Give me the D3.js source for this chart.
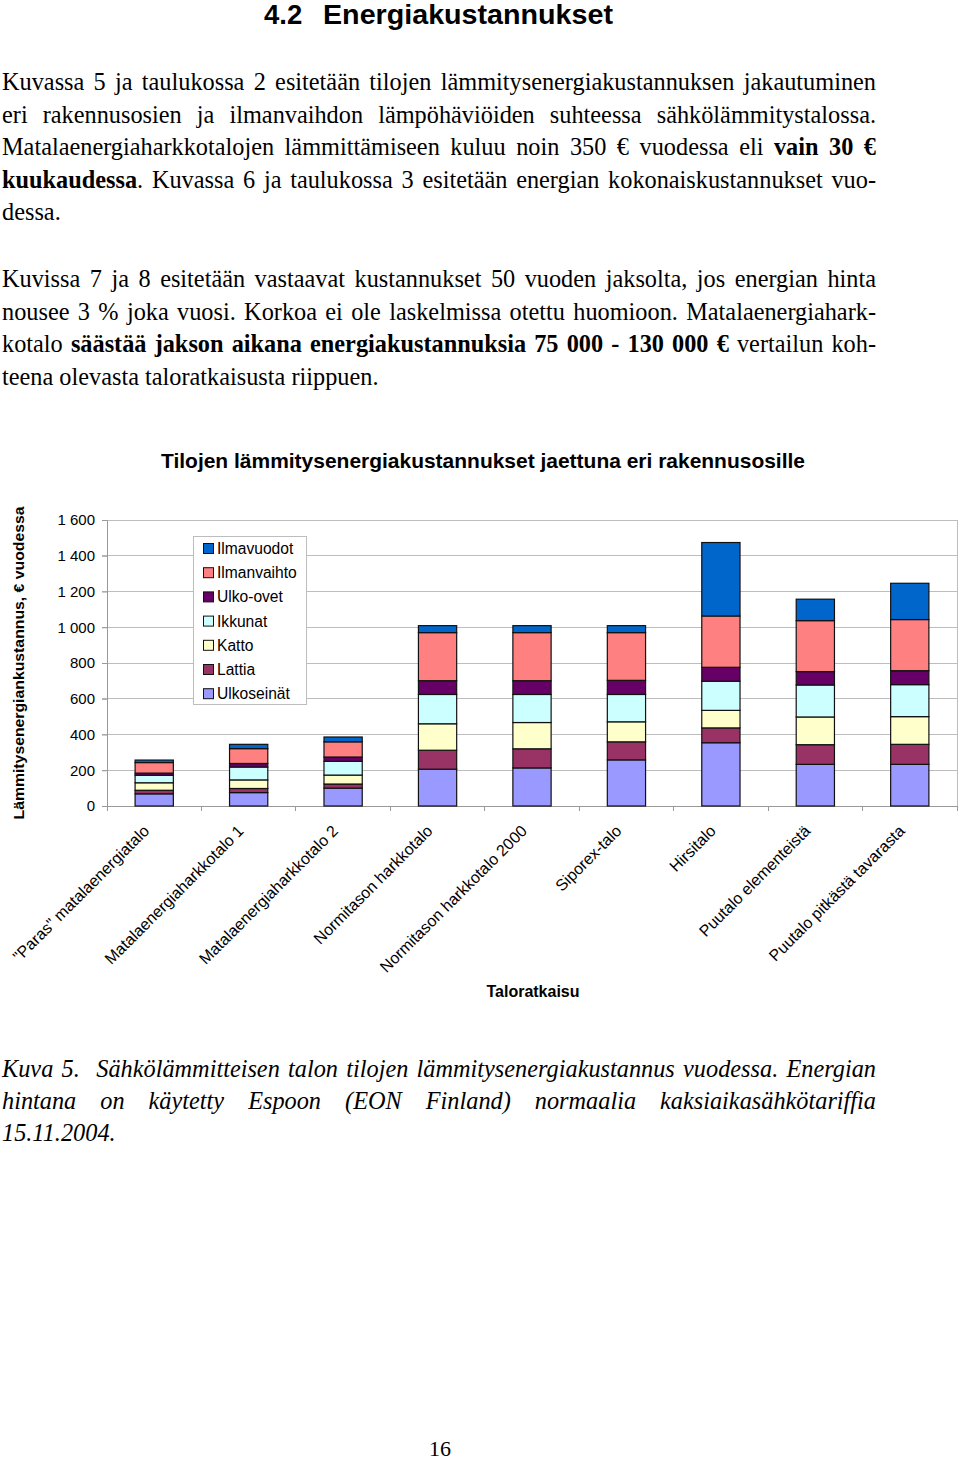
<!DOCTYPE html>
<html><head><meta charset="utf-8">
<script src="https://cdn.jsdelivr.net/npm/d3@7/dist/d3.min.js"></script>
<style>
html,body{margin:0;padding:0;background:#fff;}
svg{display:block;}
</style></head>
<body>
<script>
// ---- data ----
const categories = ['"Paras" matalaenergiatalo','Matalaenergiaharkkotalo 1','Matalaenergiaharkkotalo 2','Normitason harkkotalo','Normitason harkkotalo 2000','Siporex-talo','Hirsitalo','Puutalo elementeistä','Puutalo pitkästä tavarasta'];
const seriesNames = ['Ulkoseinät','Lattia','Katto','Ikkunat','Ulko-ovet','Ilmanvaihto','Ilmavuodot'];
const seriesColors = ['#9999FF','#993366','#FFFFCC','#CCFFFF','#660066','#FF8080','#0066CC'];
const ulkoseinat  = [68, 75, 100, 206, 213, 258, 354, 233, 233];
const lattia      = [20, 23, 23, 106, 107, 101, 83, 110, 112];
const katto       = [42, 48, 50, 148, 147, 112, 98, 155, 155];
const ikkunat     = [42, 72, 77, 164, 157, 153, 163, 179, 179];
const ulkoovet    = [12, 20, 24, 77, 77, 79, 78, 75, 78];
const ilmanvaihto = [59, 83, 85, 269, 269, 267, 287, 285, 286];
const ilmavuodot  = [14, 24, 27, 39, 39, 39, 411, 120, 203];
const yTicks = [0,200,400,600,800,1000,1200,1400,1600];
const yTickLabels = ['0','200','400','600','800','1 000','1 200','1 400','1 600'];
const legendOrder = ['Ilmavuodot','Ilmanvaihto','Ulko-ovet','Ikkunat','Katto','Lattia','Ulkoseinät'];

const headingNum = '4.2';
const headingText = 'Energiakustannukset';
const chartTitle = 'Tilojen lämmitysenergiakustannukset jaettuna eri rakennusosille';
const yTitle = 'Lämmitysenergiankustannus, € vuodessa';
const xTitle = 'Taloratkaisu';
const para1 = [
  {j:true, parts:[['Kuvassa 5 ja taulukossa 2 esitetään tilojen lämmitysenergiakustannuksen jakautuminen',0]]},
  {j:true, parts:[['eri rakennusosien ja ilmanvaihdon lämpöhäviöiden suhteessa sähkölämmitystalossa.',0]]},
  {j:true, parts:[['Matalaenergiaharkkotalojen lämmittämiseen kuluu noin 350 € vuodessa eli ',0],['vain 30 €',1]]},
  {j:true, parts:[['kuukaudessa',1],['. Kuvassa 6 ja taulukossa 3 esitetään energian kokonaiskustannukset vuo-',0]]},
  {j:false, parts:[['dessa.',0]]}
];
const para2 = [
  {j:true, parts:[['Kuvissa 7 ja 8 esitetään vastaavat kustannukset 50 vuoden jaksolta, jos energian hinta',0]]},
  {j:true, parts:[['nousee 3 % joka vuosi. Korkoa ei ole laskelmissa otettu huomioon. Matalaenergiahark-',0]]},
  {j:true, parts:[['kotalo ',0],['säästää jakson aikana energiakustannuksia 75 000 - 130 000 €',1],[' vertailun koh-',0]]},
  {j:false, parts:[['teena olevasta taloratkaisusta riippuen.',0]]}
];
const caption = [
  {j:true, parts:[['Kuva 5.  Sähkölämmitteisen talon tilojen lämmitysenergiakustannus vuodessa. Energian',0]]},
  {j:true, parts:[['hintana on käytetty Espoon (EON Finland) normaalia kaksiaikasähkötariffia',0]]},
  {j:false, parts:[['15.11.2004.',0]]}
];
const pageNumber = '16';

const seriesData = [ulkoseinat, lattia, katto, ikkunat, ulkoovet, ilmanvaihto, ilmavuodot];

// ---- drawing ----
const W = 960, H = 1462;
const svg = d3.select('body').append('svg').attr('width', W).attr('height', H);
const serif = '"Liberation Serif","Times New Roman",serif';
const sans = '"Liberation Sans",Arial,sans-serif';

svg.append('text').attr('x', 264).attr('y', 24).attr('font-family', sans)
  .attr('font-weight', 'bold').attr('font-size', 27.5).text(headingNum);
svg.append('text').attr('x', 323).attr('y', 24).attr('font-family', sans)
  .attr('font-weight', 'bold').attr('font-size', 27.5).attr('textLength', 290)
  .attr('lengthAdjust', 'spacingAndGlyphs').text(headingText);

function textBlock(lines, y0, dy, italic) {
  const left = 2, right = 876;
  lines.forEach((ln, i) => {
    const t = svg.append('text').attr('x', left).attr('y', y0 + i * dy)
      .attr('font-family', serif).attr('font-size', 24.3)
      .attr('font-style', italic ? 'italic' : 'normal')
      .attr('xml:space', 'preserve');
    ln.parts.forEach(p => {
      t.append('tspan').attr('font-weight', p[1] ? 'bold' : 'normal').text(p[0]);
    });
    if (ln.j) {
      const full = ln.parts.map(p => p[0]).join('');
      const spaces = (full.match(/[ \u00a0]/g) || []).length;
      const w = t.node().getComputedTextLength();
      if (spaces > 0) t.attr('word-spacing', (right - left - w) / spaces);
    }
  });
}
textBlock(para1, 90, 32.6, false);
textBlock(para2, 287, 32.6, false);
textBlock(caption, 1076.5, 32.2, true);

svg.append('text').attr('x', 440).attr('y', 1456).attr('text-anchor', 'middle')
  .attr('font-family', serif).attr('font-size', 22).text(pageNumber);

// chart
const x0 = 107, x1 = 957, yTop = 520, yBot = 806;
const x = d3.scaleBand().domain(categories).range([x0, x1]).padding(0);
const y = d3.scaleLinear().domain([0, 1600]).range([yBot, yTop]);
const barW = x.bandwidth() * 0.405;

svg.append('text').attr('x', 483).attr('y', 467.5).attr('text-anchor', 'middle')
  .attr('font-family', sans).attr('font-weight', 'bold').attr('font-size', 20.5)
  .attr('textLength', 644).attr('lengthAdjust', 'spacingAndGlyphs').text(chartTitle);

// gridlines
const grid = svg.append('g');
grid.selectAll('line').data(yTicks).join('line')
  .attr('x1', x0 - 5).attr('x2', x1).attr('y1', d => y(d)).attr('y2', d => y(d))
  .attr('stroke', '#bdbdbd').attr('stroke-width', 1).attr('shape-rendering', 'crispEdges');
svg.append('line').attr('x1', x1).attr('x2', x1).attr('y1', yTop).attr('y2', yBot)
  .attr('stroke', '#bdbdbd').attr('shape-rendering', 'crispEdges');

// y axis
const yAxis = d3.axisLeft(y).tickValues(yTicks).tickSize(5)
  .tickFormat((d, i) => yTickLabels[i]);
const gy = svg.append('g').attr('transform', `translate(${x0},0)`).call(yAxis);
gy.select('.domain').attr('stroke', '#999');
gy.selectAll('.tick line').attr('stroke', '#999');
gy.selectAll('.tick text').attr('font-family', sans).attr('font-size', 15)
  .attr('fill', '#000').attr('x', -12);

// x axis
const gx = svg.append('g').attr('transform', `translate(0,${yBot})`);
gx.append('line').attr('x1', x0).attr('x2', x1).attr('stroke', '#999').attr('shape-rendering', 'crispEdges');
const boundaries = categories.map(c => x(c)).concat([x1]);
gx.selectAll('.bt').data(boundaries).join('line').attr('class', 'bt')
  .attr('x1', d => d).attr('x2', d => d).attr('y1', 0).attr('y2', 5)
  .attr('stroke', '#999').attr('shape-rendering', 'crispEdges');
gx.selectAll('.cl').data(categories).join('text').attr('class', 'cl')
  .attr('transform', d => `translate(${x(d) + x.bandwidth() / 2 - 4},${26}) rotate(-45)`)
  .attr('text-anchor', 'end').attr('font-family', sans).attr('font-size', 16).text(d => d);

// stacked bars
const rows = categories.map((c, i) => {
  const o = { cat: c };
  seriesNames.forEach((s, k) => o[s] = seriesData[k][i]);
  return o;
});
const stack = d3.stack().keys(seriesNames)(rows);
const color = d3.scaleOrdinal().domain(seriesNames).range(seriesColors);
svg.append('g').selectAll('g').data(stack).join('g').attr('fill', d => color(d.key))
  .selectAll('rect').data(d => d).join('rect')
  .attr('x', d => x(d.data.cat) + (x.bandwidth() - barW) / 2)
  .attr('width', barW)
  .attr('y', d => y(d[1])).attr('height', d => y(d[0]) - y(d[1]))
  .attr('stroke', '#111').attr('stroke-width', 1.2);

// legend
const lg = svg.append('g');
lg.append('rect').attr('x', 193.5).attr('y', 536.5).attr('width', 113).attr('height', 168)
  .attr('fill', '#fff').attr('stroke', '#bdbdbd');
legendOrder.forEach((name, i) => {
  const cy = 548.5 + i * 24.2;
  lg.append('rect').attr('x', 203.5).attr('y', cy - 5).attr('width', 10).attr('height', 10)
    .attr('fill', color(name)).attr('stroke', '#111');
  lg.append('text').attr('x', 217).attr('y', cy + 5.5).attr('font-family', sans)
    .attr('font-size', 15.6).text(name);
});

// axis titles
svg.append('text').attr('transform', 'translate(24,663) rotate(-90)').attr('text-anchor', 'middle')
  .attr('font-family', sans).attr('font-weight', 'bold').attr('font-size', 15.5)
  .attr('textLength', 313).attr('lengthAdjust', 'spacingAndGlyphs').text(yTitle);
svg.append('text').attr('x', 533).attr('y', 997).attr('text-anchor', 'middle')
  .attr('font-family', sans).attr('font-weight', 'bold').attr('font-size', 16).text(xTitle);
</script>
</body></html>
